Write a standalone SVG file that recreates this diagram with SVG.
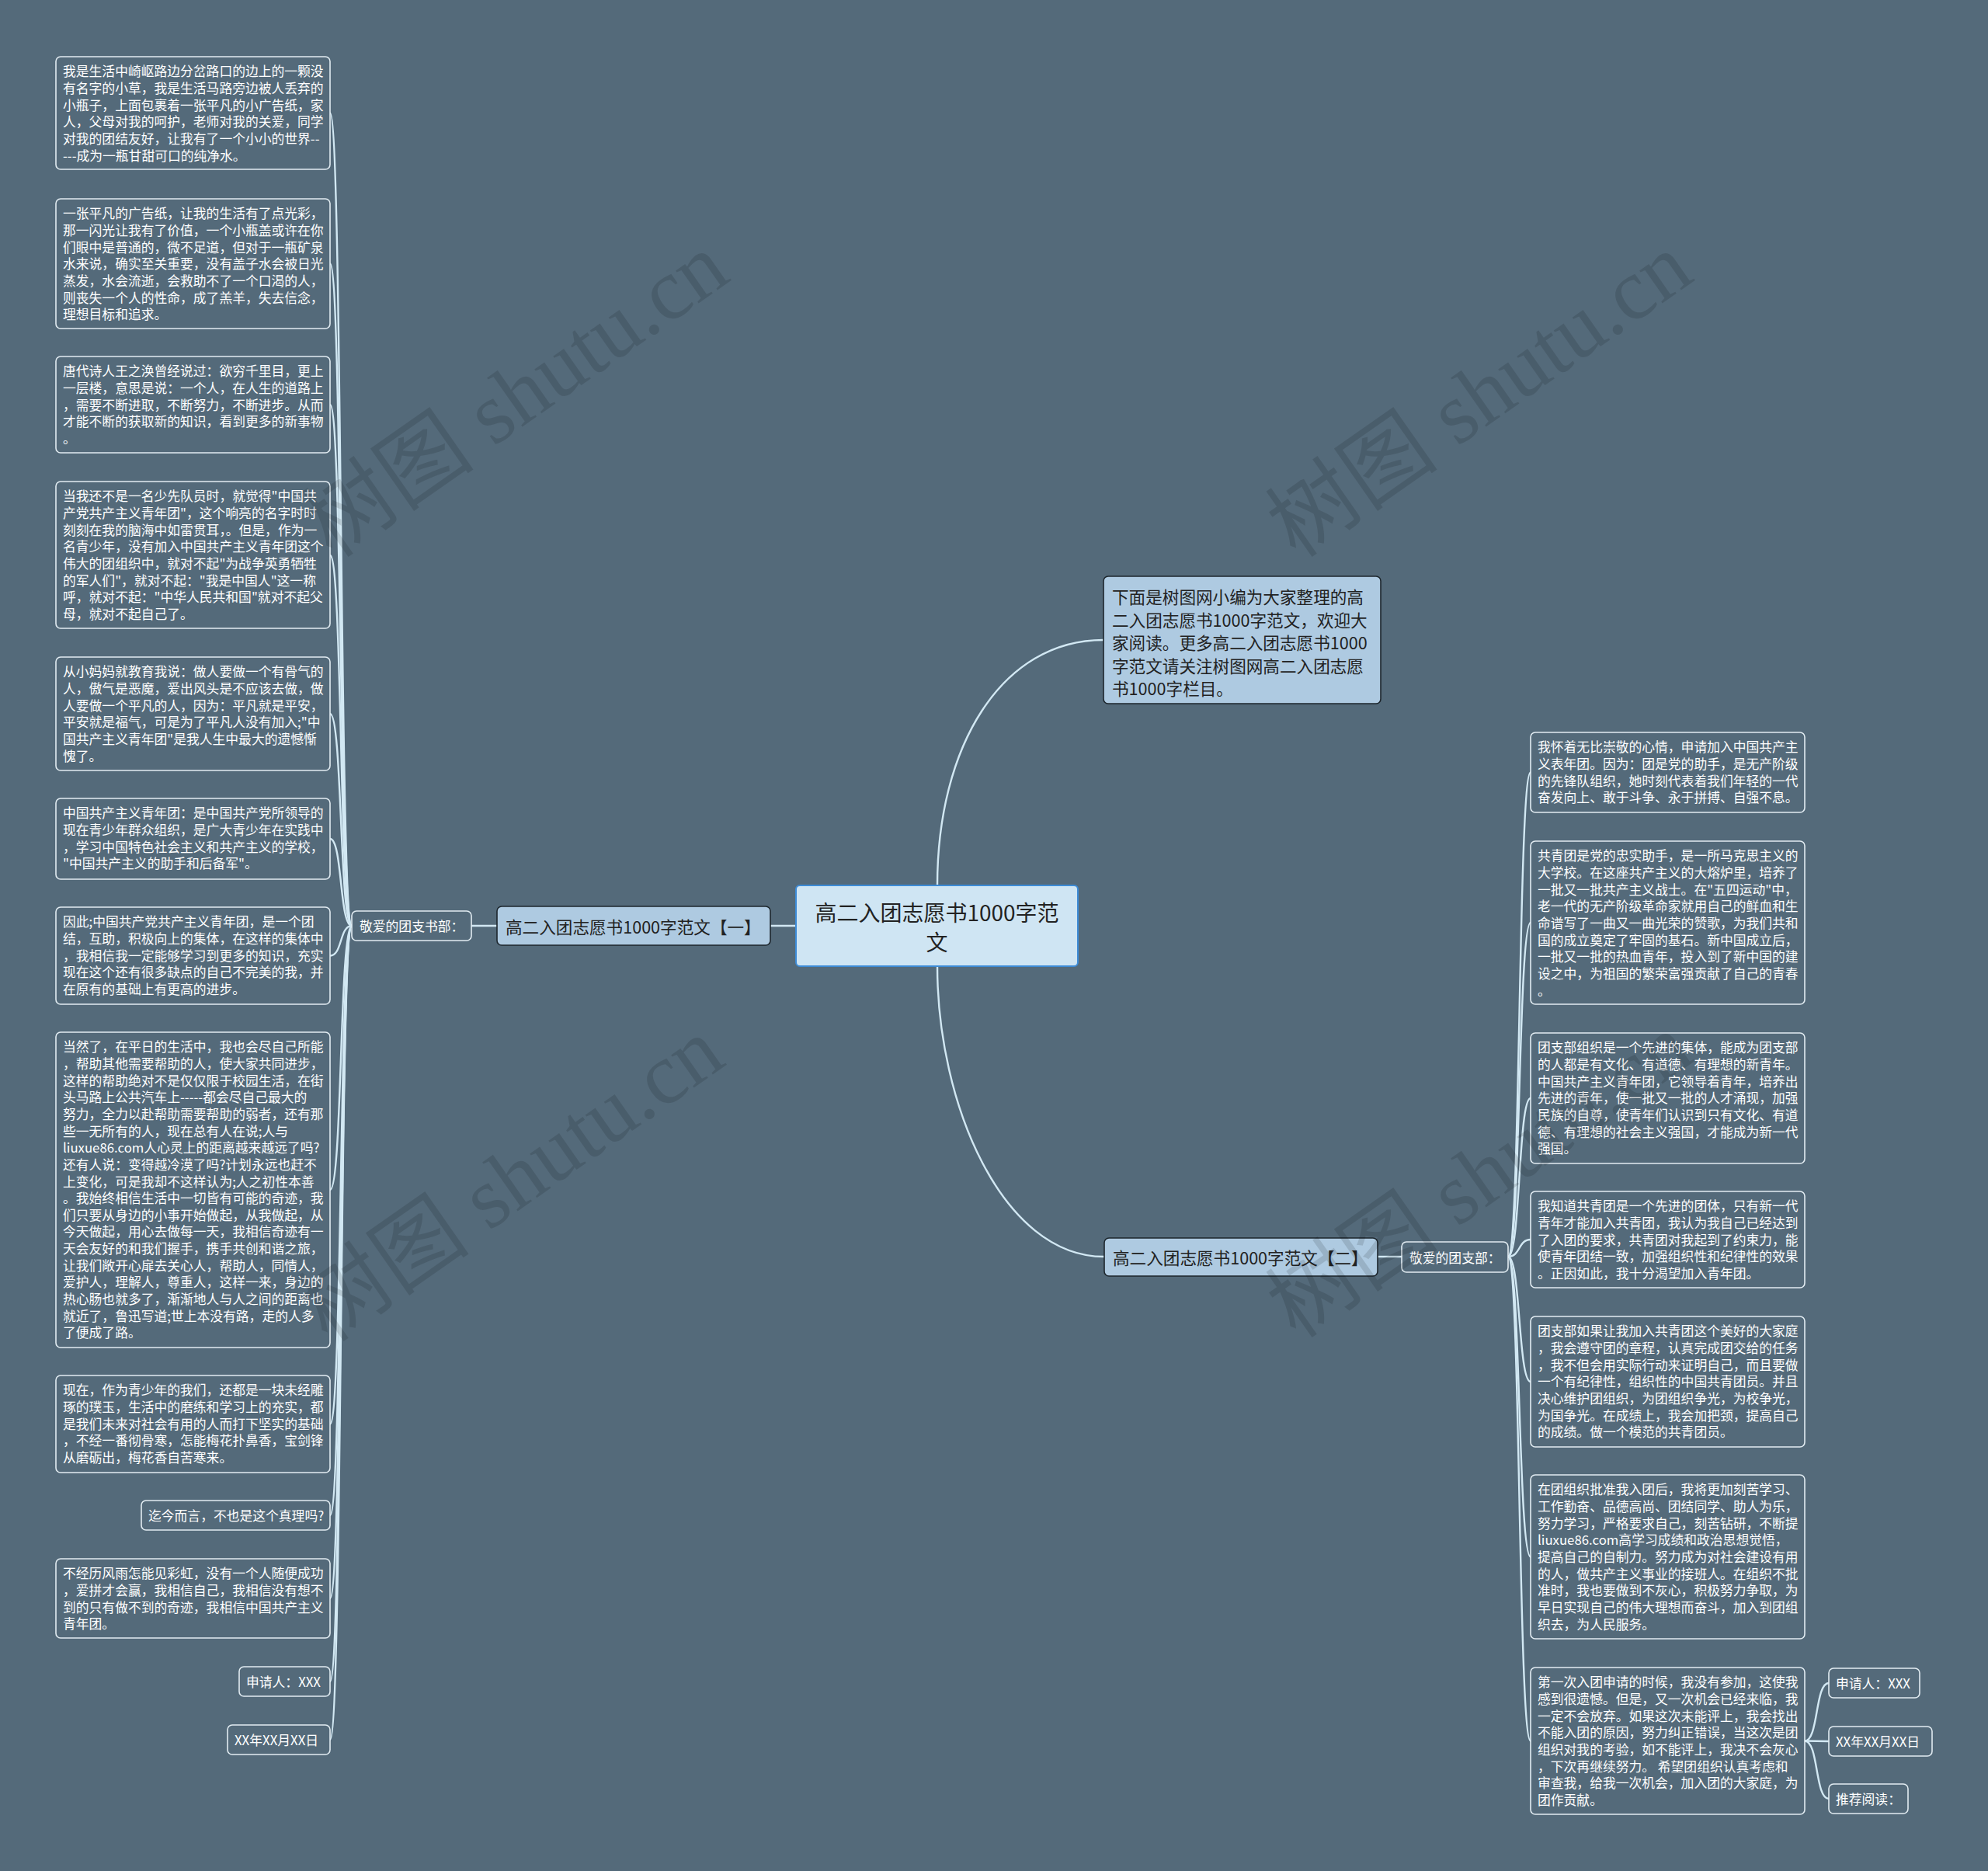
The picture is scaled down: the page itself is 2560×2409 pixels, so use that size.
<svg xmlns="http://www.w3.org/2000/svg" width="2560" height="2409" viewBox="0 0 2560 2409">
<style>
.t{font-family:"Noto Sans CJK SC","Noto Sans",sans-serif;font-size:16.8px;fill:#ffffff;dominant-baseline:central}
.tn{fill:#546a7a;stroke:#e2ecf2;stroke-width:1.6}
.br{fill:#aecae1;stroke:#1d262d;stroke-width:1.6}
.bt{font-family:"Noto Sans CJK SC","Noto Sans",sans-serif;font-size:21.6px;fill:#222222;dominant-baseline:central}
.ct{font-family:"Noto Sans CJK SC","Noto Sans",sans-serif;font-size:28px;fill:#222222;dominant-baseline:central;text-anchor:middle}
.lk{fill:none;stroke:#d2e8f3;stroke-width:2.4}
.wm{font-family:"Liberation Serif","Noto Sans CJK SC",serif;font-size:112px;fill:#000000;fill-opacity:0.12;text-anchor:middle}
</style>
<rect x="0" y="0" width="2560" height="2409" fill="#546a7a"/>

<g id="connectors">
<path class="lk" d="M1207,1140 C1207,960 1290,824 1421,824" stroke-width="3"/>
<path class="lk" d="M1207,1244 C1207,1420 1290,1618 1422,1618" stroke-width="3"/>
<path class="lk" d="M1025,1192 L992,1192" stroke-width="3"/>
<path class="lk" d="M640,1192 L607,1192"/>
<path class="lk" d="M1774,1618 L1805,1618"/>
<path class="lk" d="M453,1192 C437,1192 441,145.5 425,145.5"/>
<path class="lk" d="M453,1192 C437,1192 441,339.5 425,339.5"/>
<path class="lk" d="M453,1192 C437,1192 441,521 425,521"/>
<path class="lk" d="M453,1192 C437,1192 441,715 425,715"/>
<path class="lk" d="M453,1192 C437,1192 441,919 425,919"/>
<path class="lk" d="M453,1192 C437,1192 441,1080 425,1080"/>
<path class="lk" d="M453,1192 C437,1192 441,1230.5 425,1230.5"/>
<path class="lk" d="M453,1192 C437,1192 441,1532 425,1532"/>
<path class="lk" d="M453,1192 C437,1192 441,1833.5 425,1833.5"/>
<path class="lk" d="M453,1192 C437,1192 441,1951 425,1951"/>
<path class="lk" d="M453,1192 C437,1192 441,2058 425,2058"/>
<path class="lk" d="M453,1192 C437,1192 441,2165 425,2165"/>
<path class="lk" d="M453,1192 C437,1192 441,2240 425,2240"/>
<path class="lk" d="M1942,1618 C1958,1618 1955,994.5 1971,994.5"/>
<path class="lk" d="M1942,1618 C1958,1618 1955,1188 1971,1188"/>
<path class="lk" d="M1942,1618 C1958,1618 1955,1414 1971,1414"/>
<path class="lk" d="M1942,1618 C1958,1618 1955,1596 1971,1596"/>
<path class="lk" d="M1942,1618 C1958,1618 1955,1779 1971,1779"/>
<path class="lk" d="M1942,1618 C1958,1618 1955,2004.5 1971,2004.5"/>
<path class="lk" d="M1942,1618 C1958,1618 1955,2241.5 1971,2241.5"/>
<path class="lk" d="M2324,2241.5 C2342,2241.5 2337,2167 2355,2167"/>
<path class="lk" d="M2324,2241.5 L2355,2242"/>
<path class="lk" d="M2324,2241.5 C2342,2241.5 2337,2316 2355,2316"/>
</g>

<g id="center">
<rect x="1025" y="1140" width="363" height="104" rx="5" fill="#cfe5f3" stroke="#3d8bd6" stroke-width="2"/>
<text class="ct" x="1206.5" y="1174">高二入团志愿书1000字范</text>
<text class="ct" x="1206.5" y="1212">文</text>
</g>

<g id="intro">
<rect class="br" x="1421" y="742" width="357" height="164" rx="6"/>
<text class="bt" x="1432" y="767"><tspan x="1432">下面是树图网小编为大家整理的高</tspan><tspan x="1432" dy="29.5">二入团志愿书1000字范文，欢迎大</tspan><tspan x="1432" dy="29.5">家阅读。更多高二入团志愿书1000</tspan><tspan x="1432" dy="29.5">字范文请关注树图网高二入团志愿</tspan><tspan x="1432" dy="29.5">书1000字栏目。</tspan></text>
</g>

<g id="branch1">
<rect class="br" x="640" y="1167" width="352" height="50" rx="6"/>
<text class="bt" x="651" y="1192">高二入团志愿书1000字范文【一】</text>
</g>

<g id="branch2">
<rect class="br" x="1422" y="1594" width="352" height="49" rx="6"/>
<text class="bt" x="1433" y="1618.5">高二入团志愿书1000字范文【二】</text>
</g>

<g id="sub-left">
<rect class="tn" x="453" y="1173" width="154" height="38" rx="6"/>
<text class="t" x="463" y="1192">敬爱的团支书部：</text>
</g>

<g id="sub-right">
<rect class="tn" x="1805" y="1599" width="137" height="39" rx="6"/>
<text class="t" x="1815" y="1618.5">敬爱的团支部：</text>
</g>

<g id="L1">
<rect class="tn" x="72" y="73" width="353" height="145" rx="6"/>
<text class="t" x="81" y="91.3"><tspan x="81">我是生活中崎岖路边分岔路口的边上的一颗没</tspan><tspan x="81" dy="21.65">有名字的小草，我是生活马路旁边被人丢弃的</tspan><tspan x="81" dy="21.65">小瓶子，上面包裹着一张平凡的小广告纸，家</tspan><tspan x="81" dy="21.65">人，父母对我的呵护，老师对我的关爱，同学</tspan><tspan x="81" dy="21.65">对我的团结友好，让我有了一个小小的世界--</tspan><tspan x="81" dy="21.65">---成为一瓶甘甜可口的纯净水。</tspan></text>
</g>

<g id="L2">
<rect class="tn" x="72" y="256" width="353" height="167" rx="6"/>
<text class="t" x="81" y="274.3"><tspan x="81">一张平凡的广告纸，让我的生活有了点光彩，</tspan><tspan x="81" dy="21.65">那一闪光让我有了价值，一个小瓶盖或许在你</tspan><tspan x="81" dy="21.65">们眼中是普通的，微不足道，但对于一瓶矿泉</tspan><tspan x="81" dy="21.65">水来说，确实至关重要，没有盖子水会被日光</tspan><tspan x="81" dy="21.65">蒸发，水会流逝，会救助不了一个口渴的人，</tspan><tspan x="81" dy="21.65">则丧失一个人的性命，成了羔羊，失去信念，</tspan><tspan x="81" dy="21.65">理想目标和追求。</tspan></text>
</g>

<g id="L3">
<rect class="tn" x="72" y="459" width="353" height="124" rx="6"/>
<text class="t" x="81" y="477.3"><tspan x="81">唐代诗人王之涣曾经说过：欲穷千里目，更上</tspan><tspan x="81" dy="21.65">一层楼，意思是说：一个人，在人生的道路上</tspan><tspan x="81" dy="21.65">，需要不断进取，不断努力，不断进步。从而</tspan><tspan x="81" dy="21.65">才能不断的获取新的知识，看到更多的新事物</tspan><tspan x="81" dy="21.65">。</tspan></text>
</g>

<g id="L4">
<rect class="tn" x="72" y="620" width="353" height="189" rx="6"/>
<text class="t" x="81" y="638.3"><tspan x="81">当我还不是一名少先队员时，就觉得"中国共</tspan><tspan x="81" dy="21.65">产党共产主义青年团"，这个响亮的名字时时</tspan><tspan x="81" dy="21.65">刻刻在我的脑海中如雷贯耳，。但是，作为一</tspan><tspan x="81" dy="21.65">名青少年，没有加入中国共产主义青年团这个</tspan><tspan x="81" dy="21.65">伟大的团组织中，就对不起"为战争英勇牺牲</tspan><tspan x="81" dy="21.65">的军人们"，就对不起："我是中国人"这一称</tspan><tspan x="81" dy="21.65">呼，就对不起："中华人民共和国"就对不起父</tspan><tspan x="81" dy="21.65">母，就对不起自己了。</tspan></text>
</g>

<g id="L5">
<rect class="tn" x="72" y="846" width="353" height="146" rx="6"/>
<text class="t" x="81" y="864.3"><tspan x="81">从小妈妈就教育我说：做人要做一个有骨气的</tspan><tspan x="81" dy="21.65">人，傲气是恶魔，爱出风头是不应该去做，做</tspan><tspan x="81" dy="21.65">人要做一个平凡的人，因为：平凡就是平安，</tspan><tspan x="81" dy="21.65">平安就是福气，可是为了平凡人没有加入;"中</tspan><tspan x="81" dy="21.65">国共产主义青年团"是我人生中最大的遗憾惭</tspan><tspan x="81" dy="21.65">愧了。</tspan></text>
</g>

<g id="L6">
<rect class="tn" x="72" y="1028" width="353" height="104" rx="6"/>
<text class="t" x="81" y="1046.3"><tspan x="81">中国共产主义青年团：是中国共产党所领导的</tspan><tspan x="81" dy="21.65">现在青少年群众组织，是广大青少年在实践中</tspan><tspan x="81" dy="21.65">，学习中国特色社会主义和共产主义的学校，</tspan><tspan x="81" dy="21.65">"中国共产主义的助手和后备军"。</tspan></text>
</g>

<g id="L7">
<rect class="tn" x="72" y="1168" width="353" height="125" rx="6"/>
<text class="t" x="81" y="1186.3"><tspan x="81">因此;中国共产党共产主义青年团，是一个团</tspan><tspan x="81" dy="21.65">结，互助，积极向上的集体，在这样的集体中</tspan><tspan x="81" dy="21.65">，我相信我一定能够学习到更多的知识，充实</tspan><tspan x="81" dy="21.65">现在这个还有很多缺点的自己不完美的我，并</tspan><tspan x="81" dy="21.65">在原有的基础上有更高的进步。</tspan></text>
</g>

<g id="L8">
<rect class="tn" x="72" y="1329" width="353" height="406" rx="6"/>
<text class="t" x="81" y="1347.3"><tspan x="81">当然了，在平日的生活中，我也会尽自己所能</tspan><tspan x="81" dy="21.65">，帮助其他需要帮助的人，使大家共同进步，</tspan><tspan x="81" dy="21.65">这样的帮助绝对不是仅仅限于校园生活，在街</tspan><tspan x="81" dy="21.65">头马路上公共汽车上-----都会尽自己最大的</tspan><tspan x="81" dy="21.65">努力，全力以赴帮助需要帮助的弱者，还有那</tspan><tspan x="81" dy="21.65">些一无所有的人，现在总有人在说;人与</tspan><tspan x="81" dy="21.65">liuxue86.com人心灵上的距离越来越远了吗?</tspan><tspan x="81" dy="21.65">还有人说：变得越冷漠了吗?计划永远也赶不</tspan><tspan x="81" dy="21.65">上变化，可是我却不这样认为;人之初性本善</tspan><tspan x="81" dy="21.65">。我始终相信生活中一切皆有可能的奇迹，我</tspan><tspan x="81" dy="21.65">们只要从身边的小事开始做起，从我做起，从</tspan><tspan x="81" dy="21.65">今天做起，用心去做每一天，我相信奇迹有一</tspan><tspan x="81" dy="21.65">天会友好的和我们握手，携手共创和谐之旅，</tspan><tspan x="81" dy="21.65">让我们敞开心扉去关心人，帮助人，同情人，</tspan><tspan x="81" dy="21.65">爱护人，理解人，尊重人，这样一来，身边的</tspan><tspan x="81" dy="21.65">热心肠也就多了，渐渐地人与人之间的距离也</tspan><tspan x="81" dy="21.65">就近了，鲁迅写道;世上本没有路，走的人多</tspan><tspan x="81" dy="21.65">了便成了路。</tspan></text>
</g>

<g id="L9">
<rect class="tn" x="72" y="1771" width="353" height="125" rx="6"/>
<text class="t" x="81" y="1789.3"><tspan x="81">现在，作为青少年的我们，还都是一块未经雕</tspan><tspan x="81" dy="21.65">琢的璞玉，生活中的磨练和学习上的充实，都</tspan><tspan x="81" dy="21.65">是我们未来对社会有用的人而打下坚实的基础</tspan><tspan x="81" dy="21.65">，不经一番彻骨寒，怎能梅花扑鼻香，宝剑锋</tspan><tspan x="81" dy="21.65">从磨砺出，梅花香自苦寒来。</tspan></text>
</g>

<g id="L10">
<rect class="tn" x="182" y="1932" width="243" height="38" rx="6"/>
<text class="t" x="191" y="1951">迄今而言，不也是这个真理吗?</text>
</g>

<g id="L11">
<rect class="tn" x="72" y="2007" width="353" height="102" rx="6"/>
<text class="t" x="81" y="2025.3"><tspan x="81">不经历风雨怎能见彩虹，没有一个人随便成功</tspan><tspan x="81" dy="21.65">，爱拼才会赢，我相信自己，我相信没有想不</tspan><tspan x="81" dy="21.65">到的只有做不到的奇迹，我相信中国共产主义</tspan><tspan x="81" dy="21.65">青年团。</tspan></text>
</g>

<g id="L12">
<rect class="tn" x="308" y="2146" width="117" height="38" rx="6"/>
<text class="t" x="317" y="2165">申请人：XXX</text>
</g>

<g id="L13">
<rect class="tn" x="293" y="2221" width="132" height="38" rx="6"/>
<text class="t" x="302" y="2240">XX年XX月XX日</text>
</g>

<g id="R1">
<rect class="tn" x="1971" y="943" width="353" height="103" rx="6"/>
<text class="t" x="1980" y="961.3"><tspan x="1980">我怀着无比崇敬的心情，申请加入中国共产主</tspan><tspan x="1980" dy="21.65">义表年团。因为：团是党的助手，是无产阶级</tspan><tspan x="1980" dy="21.65">的先锋队组织，她时刻代表着我们年轻的一代</tspan><tspan x="1980" dy="21.65">奋发向上、敢于斗争、永于拼搏、自强不息。</tspan></text>
</g>

<g id="R2">
<rect class="tn" x="1971" y="1083" width="353" height="210" rx="6"/>
<text class="t" x="1980" y="1101.3"><tspan x="1980">共青团是党的忠实助手，是一所马克思主义的</tspan><tspan x="1980" dy="21.65">大学校。在这座共产主义的大熔炉里，培养了</tspan><tspan x="1980" dy="21.65">一批又一批共产主义战士。在"五四运动"中，</tspan><tspan x="1980" dy="21.65">老一代的无产阶级革命家就用自己的鲜血和生</tspan><tspan x="1980" dy="21.65">命谱写了一曲又一曲光荣的赞歌，为我们共和</tspan><tspan x="1980" dy="21.65">国的成立奠定了牢固的基石。新中国成立后，</tspan><tspan x="1980" dy="21.65">一批又一批的热血青年，投入到了新中国的建</tspan><tspan x="1980" dy="21.65">设之中，为祖国的繁荣富强贡献了自己的青春</tspan><tspan x="1980" dy="21.65">。</tspan></text>
</g>

<g id="R3">
<rect class="tn" x="1971" y="1330" width="353" height="168" rx="6"/>
<text class="t" x="1980" y="1348.3"><tspan x="1980">团支部组织是一个先进的集体，能成为团支部</tspan><tspan x="1980" dy="21.65">的人都是有文化、有道德、有理想的新青年。</tspan><tspan x="1980" dy="21.65">中国共产主义青年团，它领导着青年，培养出</tspan><tspan x="1980" dy="21.65">先进的青年，使一批又一批的人才涌现，加强</tspan><tspan x="1980" dy="21.65">民族的自尊，使青年们认识到只有文化、有道</tspan><tspan x="1980" dy="21.65">德、有理想的社会主义强国，才能成为新一代</tspan><tspan x="1980" dy="21.65">强国。</tspan></text>
</g>

<g id="R4">
<rect class="tn" x="1971" y="1534" width="353" height="124" rx="6"/>
<text class="t" x="1980" y="1552.3"><tspan x="1980">我知道共青团是一个先进的团体，只有新一代</tspan><tspan x="1980" dy="21.65">青年才能加入共青团，我认为我自己已经达到</tspan><tspan x="1980" dy="21.65">了入团的要求，共青团对我起到了约束力，能</tspan><tspan x="1980" dy="21.65">使青年团结一致，加强组织性和纪律性的效果</tspan><tspan x="1980" dy="21.65">。正因如此，我十分渴望加入青年团。</tspan></text>
</g>

<g id="R5">
<rect class="tn" x="1971" y="1695" width="353" height="168" rx="6"/>
<text class="t" x="1980" y="1713.3"><tspan x="1980">团支部如果让我加入共青团这个美好的大家庭</tspan><tspan x="1980" dy="21.65">，我会遵守团的章程，认真完成团交给的任务</tspan><tspan x="1980" dy="21.65">，我不但会用实际行动来证明自己，而且要做</tspan><tspan x="1980" dy="21.65">一个有纪律性，组织性的中国共青团员。并且</tspan><tspan x="1980" dy="21.65">决心维护团组织，为团组织争光，为校争光，</tspan><tspan x="1980" dy="21.65">为国争光。在成绩上，我会加把颈，提高自己</tspan><tspan x="1980" dy="21.65">的成绩。做一个模范的共青团员。</tspan></text>
</g>

<g id="R6">
<rect class="tn" x="1971" y="1899" width="353" height="211" rx="6"/>
<text class="t" x="1980" y="1917.3"><tspan x="1980">在团组织批准我入团后，我将更加刻苦学习、</tspan><tspan x="1980" dy="21.65">工作勤奋、品德高尚、团结同学、助人为乐，</tspan><tspan x="1980" dy="21.65">努力学习，严格要求自己，刻苦钻研，不断提</tspan><tspan x="1980" dy="21.65">liuxue86.com高学习成绩和政治思想觉悟，</tspan><tspan x="1980" dy="21.65">提高自己的自制力。努力成为对社会建设有用</tspan><tspan x="1980" dy="21.65">的人，做共产主义事业的接班人。在组织不批</tspan><tspan x="1980" dy="21.65">准时，我也要做到不灰心，积极努力争取，为</tspan><tspan x="1980" dy="21.65">早日实现自己的伟大理想而奋斗，加入到团组</tspan><tspan x="1980" dy="21.65">织去，为人民服务。</tspan></text>
</g>

<g id="R7">
<rect class="tn" x="1971" y="2147" width="353" height="189" rx="6"/>
<text class="t" x="1980" y="2165.3"><tspan x="1980">第一次入团申请的时候，我没有参加，这使我</tspan><tspan x="1980" dy="21.65">感到很遗憾。但是，又一次机会已经来临，我</tspan><tspan x="1980" dy="21.65">一定不会放弃。如果这次未能评上，我会找出</tspan><tspan x="1980" dy="21.65">不能入团的原因，努力纠正错误，当这次是团</tspan><tspan x="1980" dy="21.65">组织对我的考验，如不能评上，我决不会灰心</tspan><tspan x="1980" dy="21.65">，下次再继续努力。 希望团组织认真考虑和</tspan><tspan x="1980" dy="21.65">审查我，给我一次机会，加入团的大家庭，为</tspan><tspan x="1980" dy="21.65">团作贡献。</tspan></text>
</g>

<g id="S1">
<rect class="tn" x="2355" y="2148" width="117" height="38" rx="6"/>
<text class="t" x="2364" y="2167">申请人：XXX</text>
</g>

<g id="S2">
<rect class="tn" x="2355" y="2223" width="133" height="38" rx="6"/>
<text class="t" x="2364" y="2242">XX年XX月XX日</text>
</g>

<g id="S3">
<rect class="tn" x="2355" y="2297" width="102" height="38" rx="6"/>
<text class="t" x="2364" y="2316">推荐阅读：</text>
</g>

<g id="watermarks">
<text class="wm" transform="translate(686,540) rotate(-35)">树图 shutu.cn</text>
<text class="wm" transform="translate(680,1550) rotate(-35)">树图 shutu.cn</text>
<text class="wm" transform="translate(1927,540) rotate(-35)">树图 shutu.cn</text>
<text class="wm" transform="translate(1927,1545) rotate(-35)">树图 shutu.cn</text>
</g>
</svg>
